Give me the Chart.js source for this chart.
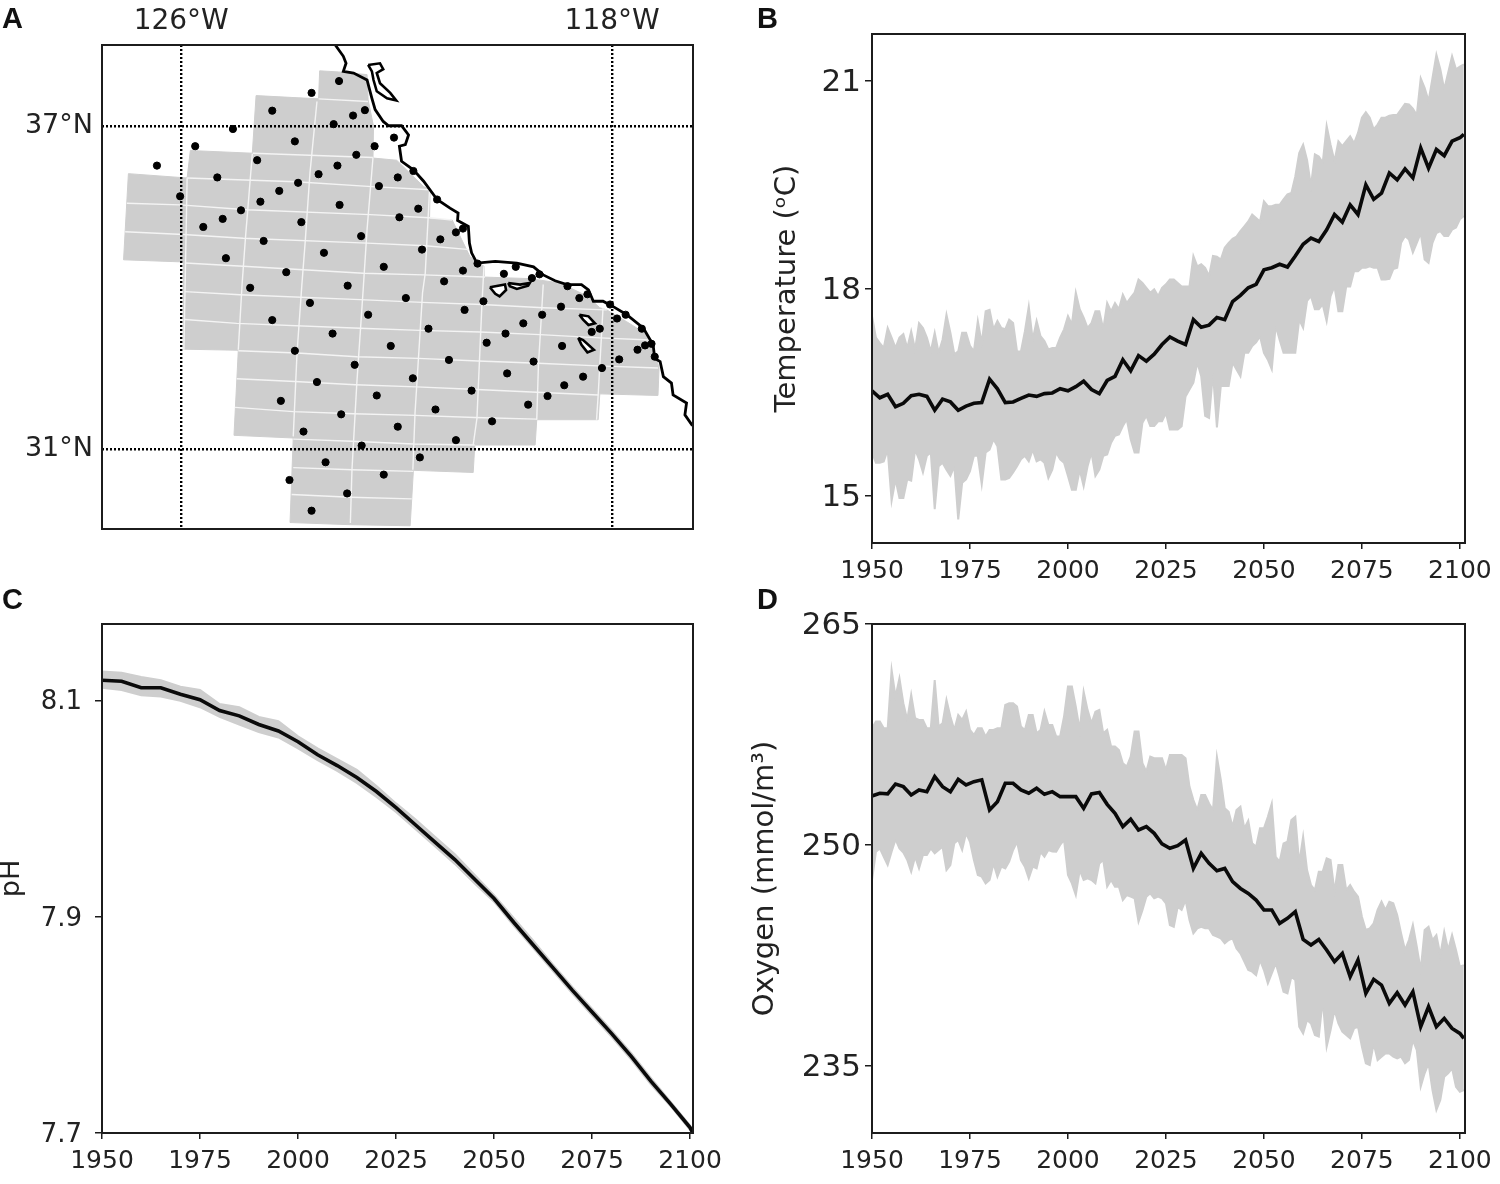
<!DOCTYPE html>
<html>
<head>
<meta charset="utf-8">
<title>Study region and projections</title>
<script src="https://cdn.jsdelivr.net/npm/chart.js@4/dist/chart.umd.min.js"></script>
<style>
    html, body { margin: 0; padding: 0; background: #fff; }
    body { position: relative; width: 1500px; height: 1184px; overflow: hidden; }
    canvas { position: absolute; }
    .tag { position: absolute; font: bold 29px "Liberation Sans", sans-serif; line-height: 29px; color: #111; }
</style>
</head>
<body>
<canvas id="mapChart" width="750" height="590" style="left:0;top:0"></canvas>
<canvas id="tempChart" width="750" height="590" style="left:750px;top:0"></canvas>
<canvas id="phChart" width="750" height="594" style="left:0;top:590px"></canvas>
<canvas id="oxyChart" width="750" height="594" style="left:750px;top:590px"></canvas>
<div class="tag" style="left:2px;top:4px">A</div>
<div class="tag" style="left:757px;top:4px">B</div>
<div class="tag" style="left:2px;top:585px">C</div>
<div class="tag" style="left:757px;top:585px">D</div>
<script>
const years = [1950, 1952, 1954, 1956, 1958, 1960, 1962, 1964, 1966, 1968, 1970, 1972, 1974, 1976, 1978, 1980, 1982, 1984, 1986, 1988,
    1990, 1992, 1994, 1996, 1998, 2000, 2002, 2004, 2006, 2008, 2010, 2012, 2014, 2016, 2018, 2020, 2022, 2024, 2026, 2028,
    2030, 2032, 2034, 2036, 2038, 2040, 2042, 2044, 2046, 2048, 2050, 2052, 2054, 2056, 2058, 2060, 2062, 2064, 2066, 2068,
    2070, 2072, 2074, 2076, 2078, 2080, 2082, 2084, 2086, 2088, 2090, 2092, 2094, 2096, 2098, 2100, 2101];
const oddYears = [1951, 1953, 1955, 1957, 1959, 1961, 1963, 1965, 1967, 1969, 1971, 1973, 1975, 1977, 1979, 1981, 1983, 1985, 1987, 1989,
    1991, 1993, 1995, 1997, 1999, 2001, 2003, 2005, 2007, 2009, 2011, 2013, 2015, 2017, 2019, 2021, 2023, 2025, 2027,
    2029, 2031, 2033, 2035, 2037, 2039, 2041, 2043, 2045, 2047, 2049, 2051, 2053, 2055, 2057, 2059, 2061, 2063, 2065, 2067, 2069,
    2071, 2073, 2075, 2077, 2079, 2081, 2083, 2085, 2087, 2089, 2091, 2093, 2095, 2097, 2099];

const tempMean = [16.52, 16.42, 16.47, 16.29, 16.34, 16.45, 16.47, 16.44, 16.24, 16.40, 16.36, 16.24, 16.30, 16.34, 16.35, 16.69, 16.55, 16.35, 16.36, 16.41,
    16.46, 16.44, 16.48, 16.49, 16.55, 16.52, 16.58, 16.66, 16.54, 16.48, 16.67, 16.73, 16.97, 16.81, 17.03, 16.95, 17.05, 17.19, 17.30, 17.24,
    17.19, 17.55, 17.44, 17.47, 17.58, 17.55, 17.81, 17.90, 18.01, 18.06, 18.27, 18.30, 18.35, 18.31, 18.47, 18.64, 18.73, 18.68, 18.85, 19.07,
    18.96, 19.21, 19.07, 19.50, 19.29, 19.38, 19.67, 19.57, 19.73, 19.60, 20.03, 19.74, 20.01, 19.92, 20.13, 20.18, 20.23];
const tempHigh = [17.60, 17.21, 17.43, 17.14, 17.34, 17.38, 17.50, 17.29, 17.36, 17.26, 17.36, 17.09, 17.36, 17.09, 17.21, 17.69, 17.53, 17.41, 17.50, 17.09,
    17.74, 17.53, 17.24, 17.14, 17.29, 17.60, 17.94, 17.58, 17.50, 17.67, 17.79, 17.79, 17.91, 17.87, 18.13, 18.01, 17.99, 18.01, 18.13, 18.08,
    18.03, 18.47, 18.35, 18.18, 18.46, 18.59, 18.72, 18.83, 18.97, 19.02, 19.26, 19.19, 19.21, 19.36, 19.62, 20.08, 19.48, 19.91, 20.35, 19.84,
    20.06, 20.20, 20.25, 20.55, 20.30, 20.47, 20.50, 20.51, 20.67, 20.60, 21.04, 20.71, 21.38, 20.88, 21.36, 21.21, 21.24];
const tempHighOdd = [17.29, 17.14, 17.29, 17.29, 17.14, 17.12, 17.43, 17.09, 17.07, 17.62, 17.05, 17.36, 17.17, 17.53, 17.67, 17.41, 17.43, 17.55, 17.09, 17.38,
    17.26, 17.31, 17.12, 17.14, 17.41, 17.48, 17.70, 17.43, 17.67, 17.41, 17.67, 17.70, 17.79, 17.94, 18.08, 17.94, 17.89, 18.06, 18.13,
    18.03, 18.03, 18.32, 18.30, 18.47, 18.42, 18.66, 18.75, 18.90, 19.07, 18.97, 19.19, 19.21, 19.29, 19.38, 19.96, 19.86, 19.94, 19.82, 20.08, 20.13,
    20.13, 20.10, 20.47, 20.47, 20.37, 20.47, 20.51, 20.59, 20.66, 20.51, 20.90, 21.04, 21.17, 21.12, 21.17];
const tempLow = [15.63, 15.48, 15.67, 15.24, 14.97, 15.22, 15.53, 15.58, 14.81, 15.48, 15.29, 14.66, 15.24, 15.58, 15.17, 15.67, 15.72, 15.24, 15.34, 15.53,
    15.50, 15.50, 15.48, 15.38, 15.53, 15.29, 15.09, 15.14, 15.63, 15.38, 15.60, 15.87, 16.01, 15.82, 15.63, 16.16, 16.01, 16.08, 15.96, 15.96,
    16.44, 16.64, 16.73, 16.13, 15.99, 16.59, 16.93, 16.73, 17.07, 17.22, 17.07, 16.83, 17.26, 17.07, 17.07, 17.43, 17.89, 17.70, 17.53, 18.03,
    17.67, 18.03, 18.25, 18.30, 18.30, 18.13, 18.14, 18.30, 18.76, 18.52, 18.80, 18.37, 18.80, 18.76, 18.85, 19.00, 19.05];
const tempLowOdd = [15.48, 15.50, 14.93, 14.97, 15.24, 15.67, 15.34, 15.63, 15.43, 15.38, 15.43, 15.19, 15.36, 15.58, 15.63, 15.82, 15.24, 15.26, 15.43, 15.58,
    15.67, 15.53, 15.26, 15.63, 15.48, 15.09, 15.38, 15.43, 15.29, 15.58, 15.77, 15.89, 16.11, 15.63, 16.06, 16.01, 16.08, 16.20, 15.96,
    16.01, 16.54, 16.93, 16.16, 16.78, 16.59, 16.59, 16.83, 17.07, 17.17, 17.31, 16.97, 17.46, 17.07, 17.07, 17.55, 17.82, 17.70, 17.77, 17.89, 17.67,
    18.03, 18.25, 18.30, 18.32, 18.30, 18.13, 18.28, 18.66, 18.71, 18.66, 18.42, 18.66, 18.83, 18.76, 18.88];

const oxyMean = [253.33, 253.51, 253.47, 254.14, 253.96, 253.40, 253.74, 253.62, 254.64, 253.96, 253.62, 254.46, 254.08, 254.30, 254.42, 252.38, 252.94, 254.19, 254.19, 253.74,
    253.51, 253.85, 253.44, 253.62, 253.28, 253.28, 253.28, 252.49, 253.47, 253.56, 252.76, 252.15, 251.25, 251.75, 251.02, 251.25, 250.79, 250.07, 249.78, 249.95,
    250.34, 248.41, 249.43, 248.75, 248.25, 248.41, 247.51, 247.05, 246.71, 246.26, 245.59, 245.59, 244.68, 245.02, 245.47, 243.59, 243.21, 243.59, 242.87, 242.08,
    242.64, 241.06, 242.19, 239.93, 240.88, 240.49, 239.25, 239.97, 239.14, 240.04, 237.67, 239.02, 237.67, 238.23, 237.55, 237.21, 236.87];
const oxyHigh = [257.92, 258.38, 257.92, 260.07, 259.62, 260.19, 258.49, 257.92, 261.20, 258.26, 258.72, 258.83, 259.05, 257.47, 257.92, 257.81, 257.92, 259.51, 259.62, 258.04,
    258.83, 257.58, 259.05, 258.15, 257.36, 260.75, 259.39, 260.41, 258.26, 259.17, 257.81, 256.68, 255.55, 256.00, 257.70, 254.98, 255.89, 255.89, 256.11, 256.11,
    255.88, 253.05, 253.39, 252.82, 255.99, 252.49, 251.24, 252.60, 251.65, 249.88, 251.13, 252.82, 248.87, 250.22, 251.92, 250.56, 247.28, 248.19, 249.09, 246.83,
    248.64, 247.28, 246.49, 244.23, 244.68, 246.15, 246.15, 245.25, 242.87, 244.57, 241.51, 244.45, 243.89, 244.11, 243.89, 241.74, 241.85];
const oxyHighOdd = [258.38, 257.92, 261.88, 261.32, 258.49, 258.60, 258.49, 257.92, 258.04, 259.85, 257.81, 258.49, 257.81, 257.92, 257.36, 257.81, 257.92, 259.62, 259.39, 257.81,
    258.83, 257.81, 258.15, 257.36, 258.72, 260.75, 257.81, 259.17, 259.05, 257.58, 256.68, 256.45, 255.32, 257.70, 255.55, 256.00, 255.89, 255.09, 256.11,
    256.11, 253.96, 252.37, 253.39, 252.37, 254.41, 252.26, 252.37, 251.13, 250.11, 251.13, 251.92, 249.20, 250.11, 251.69, 248.75, 248.30, 246.94, 248.19, 248.98, 248.64,
    246.94, 246.83, 245.13, 244.34, 245.59, 245.59, 246.04, 244.00, 243.55, 243.10, 244.23, 243.55, 242.53, 242.87, 242.87];
const oxyLow = [247.62, 249.77, 248.64, 250.38, 249.48, 248.19, 248.41, 249.32, 249.43, 249.88, 248.64, 250.34, 250.79, 248.98, 247.85, 247.62, 247.85, 248.41, 249.66, 248.98,
    247.73, 248.41, 249.20, 249.56, 250.00, 247.96, 246.60, 247.62, 247.62, 248.75, 247.17, 247.17, 246.26, 246.49, 244.79, 246.49, 246.38, 246.38, 244.57, 245.81,
    246.26, 244.00, 244.45, 244.34, 243.78, 243.32, 243.66, 242.64, 241.51, 241.17, 241.51, 241.29, 241.06, 239.93, 240.83, 237.21, 237.89, 236.99, 236.31, 238.80,
    237.33, 236.87, 237.67, 235.18, 236.53, 235.63, 235.85, 235.52, 235.18, 236.76, 233.59, 235.18, 232.01, 234.27, 234.84, 233.25, 233.37];
const oxyLowOdd = [249.54, 249.20, 249.54, 249.77, 248.98, 249.20, 249.32, 249.77, 249.66, 248.30, 250.11, 249.66, 250.22, 247.96, 247.39, 248.75, 248.53, 248.87, 250.22, 248.53,
    248.53, 249.54, 249.66, 249.54, 250.34, 247.39, 248.30, 247.73, 247.39, 248.98, 247.62, 247.17, 246.60, 246.38, 245.58, 246.72, 246.49, 246.04, 244.45,
    245.59, 244.91, 244.34, 244.34, 243.89, 243.66, 243.55, 242.98, 242.08, 241.40, 242.19, 240.61, 241.97, 240.04, 241.06, 237.67, 238.12, 237.10, 239.48, 237.44, 237.89,
    237.10, 237.55, 236.31, 235.06, 235.40, 235.85, 235.63, 235.63, 235.40, 236.08, 234.50, 233.37, 232.69, 234.50, 233.59];

const phYears = [1950, 1955, 1960, 1965, 1970, 1975, 1980, 1985, 1990, 1995, 2000, 2005, 2010, 2015, 2020, 2025, 2030, 2035, 2040, 2045, 2050,
    2055, 2060, 2065, 2070, 2075, 2080, 2085, 2090, 2095, 2100, 2100.7];
const phMean = [8.119, 8.118, 8.112, 8.112, 8.106, 8.101, 8.091, 8.086, 8.078, 8.072, 8.062, 8.050, 8.040, 8.029, 8.016, 8.001, 7.985, 7.969, 7.953, 7.935, 7.917,
    7.895, 7.874, 7.853, 7.832, 7.812, 7.792, 7.771, 7.748, 7.727, 7.705, 7.700];
const phHigh = [8.127, 8.126, 8.122, 8.119, 8.113, 8.110, 8.097, 8.094, 8.085, 8.081, 8.067, 8.056, 8.046, 8.036, 8.021, 8.005, 7.990, 7.974, 7.958, 7.939, 7.920,
    7.899, 7.878, 7.856, 7.835, 7.815, 7.795, 7.774, 7.751, 7.729, 7.707, 7.701];
const phLow = [8.112, 8.110, 8.105, 8.104, 8.100, 8.094, 8.085, 8.078, 8.071, 8.066, 8.056, 8.045, 8.035, 8.024, 8.011, 7.997, 7.981, 7.965, 7.949, 7.931, 7.914,
    7.892, 7.871, 7.850, 7.829, 7.809, 7.789, 7.768, 7.745, 7.725, 7.703, 7.699];

const yearTicks = [1950, 1975, 2000, 2025, 2050, 2075, 2100];
const tempTicks = [15, 18, 21];
const phTicks = [7.7, 7.9, 8.1];
const oxyTicks = [235, 250, 265];
const lonTicks = [-126, -118];
const lonLabels = ["126°W", "118°W"];
const latTicks = [31, 37];
const latLabels = ["31°N", "37°N"];

const regionOutline = [[-123.43, 38.02], [-123.08, 38.00], [-122.55, 37.95], [-122.53, 37.48], [-122.43, 36.99], [-122.44, 36.40], [-122.00, 36.36],
    [-121.50, 35.87], [-121.38, 35.81], [-121.39, 35.27], [-120.97, 35.25], [-120.64, 34.57], [-120.38, 34.39], [-120.38, 34.19], [-119.53, 34.16],
    [-118.97, 34.08], [-118.47, 33.84], [-118.23, 33.62], [-118.10, 33.58], [-117.73, 33.36], [-117.35, 33.12], [-117.17, 32.65], [-117.13, 32.50],
    [-117.15, 31.99], [-118.23, 32.02], [-118.26, 31.54], [-119.40, 31.54], [-119.43, 31.07], [-120.55, 31.07], [-120.58, 30.56], [-121.69, 30.60],
    [-121.75, 29.57], [-122.86, 29.59], [-123.98, 29.63], [-123.92, 31.20], [-125.02, 31.25], [-124.94, 32.83], [-125.96, 32.85], [-125.96, 34.47],
    [-127.07, 34.51], [-126.98, 36.11], [-125.89, 36.03], [-125.83, 36.54], [-124.68, 36.49], [-124.61, 37.56], [-123.45, 37.50], [-123.43, 38.02]];

const cellLines = [
    [[-123.45, 37.50], [-122.53, 37.45]],
    [[-124.67, 36.49], [-122.44, 36.41]],
    [[-125.89, 36.03], [-123.87, 35.96], [-122.46, 35.87], [-121.38, 35.81]],
    [[-127.01, 35.56], [-126.02, 35.53], [-124.78, 35.44], [-122.49, 35.35], [-121.39, 35.29], [-120.97, 35.25]],
    [[-127.04, 35.03], [-125.96, 34.98], [-124.85, 34.91], [-122.55, 34.82], [-121.47, 34.77], [-120.64, 34.70]],
    [[-125.93, 34.45], [-124.85, 34.39], [-122.62, 34.26], [-121.51, 34.23], [-120.36, 34.19]],
    [[-125.93, 33.92], [-124.91, 33.86], [-122.68, 33.77], [-121.53, 33.72], [-120.42, 33.68], [-119.28, 33.62], [-118.10, 33.58]],
    [[-125.93, 33.40], [-124.97, 33.33], [-122.68, 33.24], [-121.57, 33.20], [-120.45, 33.17], [-119.34, 33.12], [-118.23, 33.06], [-117.30, 33.02]],
    [[-124.94, 32.82], [-123.85, 32.78], [-122.74, 32.71], [-121.60, 32.68], [-120.49, 32.63], [-119.38, 32.59], [-118.26, 32.54], [-117.15, 32.50]],
    [[-124.97, 32.30], [-123.89, 32.25], [-122.77, 32.19], [-121.63, 32.15], [-120.51, 32.10], [-119.40, 32.05], [-118.26, 32.00]],
    [[-125.00, 31.77], [-123.92, 31.69], [-122.80, 31.65], [-121.66, 31.62], [-120.55, 31.58], [-119.40, 31.55]],
    [[-123.92, 31.18], [-122.83, 31.14], [-121.69, 31.09], [-120.55, 31.07]],
    [[-123.92, 30.65], [-122.83, 30.61], [-121.69, 30.58]],
    [[-123.95, 30.15], [-122.86, 30.10], [-121.72, 30.07]],
    [[-125.89, 36.03], [-125.95, 32.84]],
    [[-124.68, 36.48], [-124.81, 34.88], [-124.87, 34.05], [-124.94, 32.84]],
    [[-123.48, 37.45], [-123.61, 36.12], [-123.70, 34.82], [-123.76, 34.05], [-123.85, 32.78], [-123.92, 31.23]],
    [[-122.44, 36.41], [-122.55, 35.07], [-122.62, 33.99], [-122.74, 32.22], [-122.83, 30.61], [-122.86, 29.62]],
    [[-121.39, 35.81], [-121.47, 34.26], [-121.52, 33.90], [-121.66, 31.66], [-121.70, 30.61]],
    [[-120.38, 34.39], [-120.42, 33.64], [-120.51, 31.57], [-120.58, 31.07]],
    [[-119.28, 34.05], [-119.37, 32.53], [-119.40, 31.54]],
    [[-118.17, 33.62], [-118.26, 32.00], [-118.29, 31.54]]
];

const coastline = [[-123.14, 38.50], [-122.99, 38.29], [-122.94, 38.16], [-122.99, 38.01], [-122.80, 37.98], [-122.55, 37.85], [-122.46, 37.51], [-122.40, 37.30],
    [-122.25, 37.08], [-122.15, 37.00], [-121.91, 37.00], [-121.78, 36.83], [-121.84, 36.65], [-121.95, 36.62], [-121.91, 36.34], [-121.69, 36.18], [-121.50, 35.97],
    [-121.25, 35.63], [-121.01, 35.47], [-120.86, 35.38], [-120.87, 35.24], [-120.67, 35.13], [-120.65, 34.82], [-120.61, 34.64], [-120.51, 34.45], [-120.17, 34.48],
    [-119.77, 34.45], [-119.46, 34.38], [-119.28, 34.23], [-119.06, 34.12], [-118.84, 34.05], [-118.57, 34.05], [-118.44, 33.95], [-118.35, 33.74], [-118.17, 33.74],
    [-117.98, 33.64], [-117.73, 33.49], [-117.42, 33.24], [-117.24, 32.93], [-117.21, 32.68], [-117.11, 32.62], [-117.05, 32.34], [-116.90, 32.22], [-116.87, 32.00],
    [-116.62, 31.85], [-116.65, 31.63], [-116.51, 31.43]];
const islands = [
    [[-122.53, 38.13], [-122.31, 38.16], [-122.25, 38.05], [-122.37, 37.98], [-122.31, 37.79], [-122.12, 37.61], [-122.01, 37.47], [-122.18, 37.51], [-122.37, 37.64], [-122.43, 37.85], [-122.46, 38.01], [-122.53, 38.13]],
    [[-120.27, 34.00], [-119.99, 34.05], [-119.97, 33.95], [-120.09, 33.83], [-120.17, 33.88], [-120.27, 34.00]],
    [[-119.93, 34.08], [-119.71, 34.05], [-119.53, 34.08], [-119.56, 34.03], [-119.77, 33.97], [-119.90, 34.02], [-119.93, 34.08]],
    [[-118.61, 33.49], [-118.44, 33.46], [-118.32, 33.33], [-118.44, 33.30], [-118.54, 33.40], [-118.61, 33.49]],
    [[-118.63, 33.06], [-118.54, 33.02], [-118.34, 32.84], [-118.46, 32.79], [-118.57, 32.93], [-118.63, 33.06]]
];

const stations = [[-123.07, 37.83], [-123.58, 37.61], [-124.31, 37.28], [-122.59, 37.29], [-122.81, 37.19], [-123.17, 37.03], [-125.04, 36.94], [-123.89, 36.71],
    [-125.74, 36.62], [-122.41, 36.62], [-122.05, 36.78], [-122.75, 36.46], [-124.59, 36.36], [-123.10, 36.26], [-126.45, 36.26], [-123.45, 36.10], [-125.33, 36.04],
    [-121.98, 36.04], [-123.83, 35.94], [-122.33, 35.88], [-124.18, 35.79], [-126.02, 35.69], [-124.53, 35.59], [-123.06, 35.53], [-124.89, 35.43], [-125.23, 35.27],
    [-121.95, 35.30], [-123.77, 35.21], [-125.59, 35.12], [-122.66, 34.95], [-124.47, 34.86], [-123.35, 34.64], [-125.17, 34.54], [-122.24, 34.38], [-124.05, 34.28],
    [-124.72, 33.99], [-122.91, 34.03], [-123.61, 33.71], [-121.83, 33.80], [-122.53, 33.49], [-124.31, 33.39], [-123.19, 33.14], [-122.11, 32.91], [-123.89, 32.82],
    [-122.78, 32.56], [-123.48, 32.24], [-122.37, 31.99], [-124.15, 31.89], [-123.03, 31.64], [-121.98, 31.41], [-123.73, 31.32], [-122.65, 31.06], [-123.32, 30.75],
    [-122.24, 30.52], [-123.99, 30.42], [-122.92, 30.17], [-123.58, 29.85], [-121.12, 34.11], [-120.39, 33.74], [-120.74, 33.58], [-121.41, 33.23], [-119.65, 33.33],
    [-119.30, 33.49], [-118.95, 33.64], [-118.61, 33.80], [-118.46, 33.87], [-119.98, 33.14], [-120.33, 32.97], [-118.93, 32.91], [-121.03, 32.65], [-119.46, 32.62],
    [-118.38, 33.17], [-118.23, 33.23], [-117.91, 33.42], [-117.53, 32.84], [-117.39, 32.92], [-117.27, 32.95], [-117.87, 32.66], [-118.19, 32.50], [-118.54, 32.34],
    [-118.89, 32.18], [-119.20, 31.98], [-119.95, 32.40], [-121.70, 32.31], [-119.56, 31.82], [-120.61, 32.08], [-121.28, 31.73], [-120.23, 31.51], [-120.90, 31.16],
    [-121.57, 30.84], [-121.60, 35.46], [-121.69, 36.16], [-121.25, 35.63], [-120.77, 35.09], [-120.90, 35.02], [-121.19, 34.89], [-121.53, 34.70], [-120.50, 34.44],
    [-120.77, 34.31], [-120.01, 34.25], [-119.79, 34.38], [-119.49, 34.17], [-119.35, 34.24], [-118.83, 34.02], [-118.04, 33.68], [-117.75, 33.49], [-117.45, 33.23],
    [-117.21, 32.71]];

const FONT = "'DejaVu Sans', sans-serif";
const GRAY = "#cecece";
const INK = "#1c1c1c";

// matplotlib style box, chart.js only has the axis side border
const framePlugin = {
    id: "frame",
    afterDraw(chart) {
        const { ctx, chartArea: a } = chart;
        ctx.save();
        ctx.strokeStyle = INK;
        ctx.lineWidth = 2;
        ctx.strokeRect(a.left, a.top, a.right - a.left, a.bottom - a.top);
        ctx.restore();
    },
};

const toXY = (pairs) => pairs.map((p) => ({ x: p[0], y: p[1] }));
const zipXY = (xs, ys) => xs.map((x, i) => ({ x: x, y: ys[i] }));
const setTicks = (values) => (scale) => {
    scale.ticks = values.map((v) => ({ value: v }));
};
// even and odd years were read separately
const mergeXY = (ys, oddYs) => zipXY(years, ys).concat(zipXY(oddYears, oddYs)).sort((a, b) => a.x - b.x);

function seriesChart(id, cfg) {
    new Chart(document.getElementById(id), {
        type: "scatter",
        plugins: [framePlugin],
        data: {
            datasets: [
                { data: cfg.mean, showLine: true, borderColor: "#0a0a0a", borderWidth: cfg.meanWidth, pointRadius: 0, tension: 0 },
                { data: cfg.high, showLine: true, borderColor: GRAY, borderWidth: 2, backgroundColor: GRAY, fill: "+1", pointRadius: 0, tension: 0 },
                { data: cfg.low, showLine: true, borderColor: GRAY, borderWidth: 2, pointRadius: 0, tension: 0 },
            ],
        },
        options: {
            responsive: false,
            animation: false,
            layout: { autoPadding: false, padding: { left: 0, top: cfg.top, right: cfg.right, bottom: 0 } },
            plugins: { legend: { display: false }, tooltip: { enabled: false } },
            scales: {
                x: {
                    min: 1950,
                    max: cfg.xMax,
                    afterBuildTicks: setTicks(yearTicks),
                    afterFit: (s) => { s.height = cfg.xHeight; },
                    border: { display: false },
                    grid: { drawOnChartArea: false, tickLength: 6, color: INK, lineWidth: 1.5 },
                    ticks: { color: "#222", font: { family: FONT, size: 25 }, maxRotation: 0, padding: 7, callback: (v) => String(v) },
                },
                y: {
                    min: cfg.yMin,
                    max: cfg.yMax,
                    afterBuildTicks: setTicks(cfg.yTicks),
                    afterFit: (s) => { s.width = cfg.yWidth; },
                    border: { display: false },
                    grid: { drawOnChartArea: false, tickLength: 7, color: INK, lineWidth: 1.5 },
                    ticks: { color: "#222", font: { family: FONT, size: cfg.yFont }, padding: cfg.yPad, labelOffset: 2, callback: (v) => String(v) },
                    title: { display: true, text: cfg.title, color: "#222", font: { family: FONT, size: cfg.titleFont }, padding: { top: cfg.titlePad, bottom: 0 } },
                },
            },
        },
    });
}

seriesChart("tempChart", { mean: zipXY(years, tempMean), high: mergeXY(tempHigh, tempHighOdd), low: mergeXY(tempLow, tempLowOdd), meanWidth: 3.6, top: 34, right: 35, xHeight: 47, xMax: 2101.3,
    yMin: 14.32, yMax: 21.68, yTicks: tempTicks, yWidth: 122, yFont: 31, yPad: 4, title: "Temperature (ᵒC)", titleFont: 29, titlePad: 20 });
seriesChart("phChart", { mean: zipXY(phYears, phMean), high: zipXY(phYears, phHigh), low: zipXY(phYears, phLow), meanWidth: 3.6, top: 34, right: 57, xHeight: 51, xMax: 2100.75,
    yMin: 7.7, yMax: 8.171, yTicks: phTicks, yWidth: 102, yFont: 26, yPad: 13, title: "pH", titleFont: 27, titlePad: -4 });
seriesChart("oxyChart", { mean: zipXY(years, oxyMean), high: mergeXY(oxyHigh, oxyHighOdd), low: mergeXY(oxyLow, oxyLowOdd), meanWidth: 3.6, top: 34, right: 35, xHeight: 51, xMax: 2101.3,
    yMin: 230.45, yMax: 265, yTicks: oxyTicks, yWidth: 122, yFont: 31, yPad: 4, title: "Oxygen (mmol/m³)", titleFont: 29, titlePad: -2 });

const lineSet = (pairs, color, width, extra) => Object.assign({
    data: toXY(pairs), showLine: true, borderColor: color, borderWidth: width, pointRadius: 0, tension: 0,
}, extra);

new Chart(document.getElementById("mapChart"), {
    type: "scatter",
    plugins: [framePlugin],
    data: {
        datasets: [
            { data: toXY(stations), backgroundColor: "#000", borderColor: "#000", pointRadius: 3.6, showLine: false, order: 0 },
            ...islands.map((p) => lineSet(p, "#000", 2.6, { fill: "shape", backgroundColor: "#fff", order: 1 })),
            lineSet(coastline, "#000", 2.8, { order: 1 }),
            ...cellLines.map((p) => lineSet(p, "#f4f4f4", 1.4, { order: 2 })),
            lineSet(regionOutline, GRAY, 1, { fill: "shape", backgroundColor: GRAY, order: 3 }),
        ],
    },
    options: {
        responsive: false,
        animation: false,
        layout: { autoPadding: false, padding: { left: 0, top: 0, right: 57, bottom: 61 } },
        plugins: { legend: { display: false }, tooltip: { enabled: false } },
        scales: {
            x: {
                position: "top",
                min: -127.47,
                max: -116.5,
                afterBuildTicks: setTicks(lonTicks),
                afterFit: (s) => { s.height = 45; },
                border: { display: false, dash: [2, 2] },
                grid: { z: 1, drawTicks: false, color: "#000", lineWidth: 2.4 },
                ticks: { color: "#222", font: { family: FONT, size: 28 }, maxRotation: 0, padding: 6,
                    callback: (v) => lonLabels[lonTicks.indexOf(v)] },
            },
            y: {
                min: 29.51,
                max: 38.5,
                afterBuildTicks: setTicks(latTicks),
                afterFit: (s) => { s.width = 102; },
                border: { display: false, dash: [2, 2] },
                grid: { z: 1, drawTicks: false, color: "#000", lineWidth: 2.4 },
                ticks: { color: "#222", font: { family: FONT, size: 27 }, padding: 9,
                    callback: (v) => latLabels[latTicks.indexOf(v)] },
            },
        },
    },
});
</script>
</body>
</html>
